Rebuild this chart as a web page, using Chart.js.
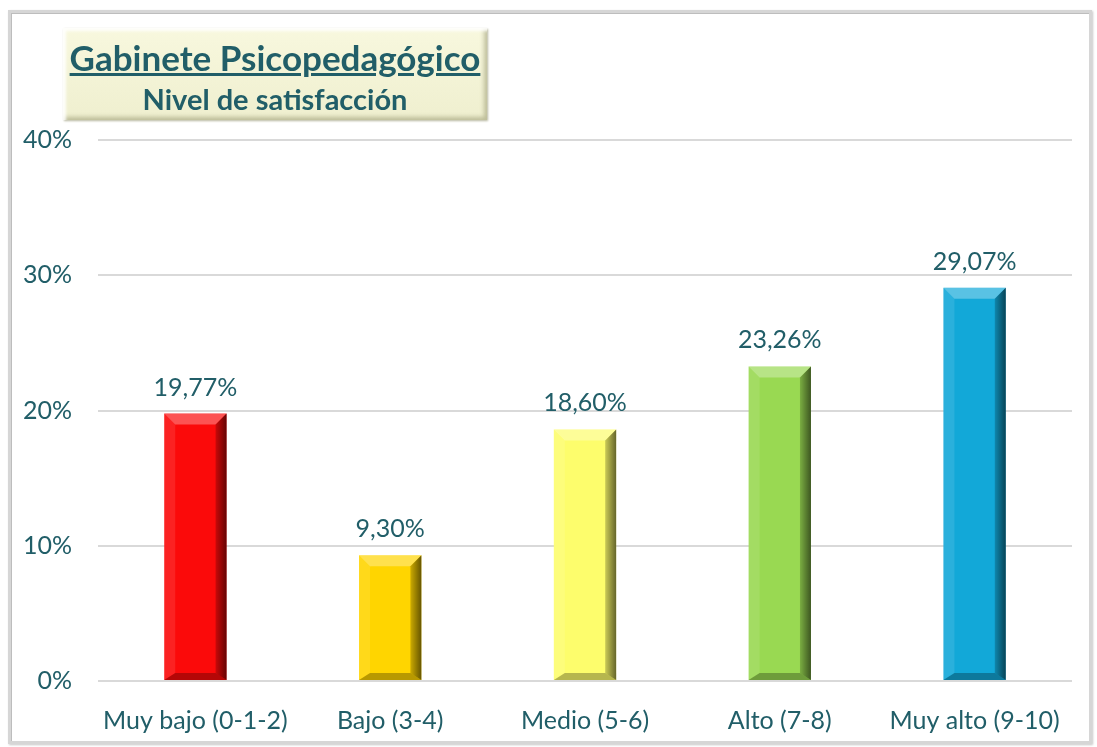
<!DOCTYPE html>
<html>
<head>
<meta charset="utf-8">
<script src="https://cdn.jsdelivr.net/npm/chart.js@4.4.0/dist/chart.umd.min.js"></script>
<style>
    html, body { margin: 0; padding: 0; background: #ffffff; }
    #wrap { position: relative; width: 1097px; height: 747px; }
    #frame {
        position: absolute; left: 8px; top: 10px; width: 1078px; height: 728px;
        border: 3px solid #d6d6d6; box-shadow: inset 1px 1px 0 #bdbdbd, 1px 1px 2px #c8c8c8;
    }
    #titleBox {
        position: absolute; left: 63px; top: 28px; width: 424px; height: 92px;
        background: linear-gradient(#f8f8de, #efefcf);
        box-shadow: inset 3px 3px 3px rgba(255,255,255,0.9), inset -3px -3px 4px rgba(150,150,110,0.55), 1px 1px 2px #b8b8a0;
        text-align: center; color: #215e68; font-family: Lato, sans-serif; font-weight: bold;
    }
    #titleBox .t1 { font-size: 35px; text-decoration: underline; text-decoration-thickness: 3px; margin-top: 9px; line-height: 40px; }
    #titleBox .t2 { font-size: 29px; margin-top: 4px; line-height: 36px; }
    canvas { position: absolute; left: 0; top: 0; }
</style>
</head>
<body>
<div id="wrap">
    <div id="frame"></div>
    <canvas id="chart" width="1097" height="747"></canvas>
    <div id="titleBox">
        <div class="t1">Gabinete Psicopedagógico</div>
        <div class="t2">Nivel de satisfacción</div>
    </div>
</div>
<script>
const categories = ['Muy bajo (0-1-2)', 'Bajo (3-4)', 'Medio (5-6)', 'Alto (7-8)', 'Muy alto (9-10)'];
const values = [19.77, 9.30, 18.60, 23.26, 29.07];
const barColors = ['#fb0a0a', '#ffd500', '#fdfd6c', '#99d952', '#12a8d8'];
const yTicks = [0, 10, 20, 30, 40];

const textColor = '#215e68';

// bevel overlay for each bar, drawn from the bar elements the library computed
const bevelPlugin = {
    id: 'bevel',
    afterDatasetsDraw(chart) {
        const ctx = chart.ctx;
        const meta = chart.getDatasetMeta(0);
        meta.data.forEach((bar, i) => {
            const l = bar.x - bar.width / 2;
            const r = bar.x + bar.width / 2;
            const t = bar.y;
            const b = bar.base;
            const s = 11;
            const sb = 7;
            ctx.save();
            // top
            ctx.fillStyle = 'rgba(255,255,255,0.3)';
            ctx.beginPath();
            ctx.moveTo(l, t); ctx.lineTo(r, t); ctx.lineTo(r - s, t + s); ctx.lineTo(l + s, t + s);
            ctx.fill();
            // left
            ctx.fillStyle = 'rgba(255,255,255,0.1)';
            ctx.beginPath();
            ctx.moveTo(l, t); ctx.lineTo(l + s, t + s); ctx.lineTo(l + s, b - sb); ctx.lineTo(l, b);
            ctx.fill();
            // right
            const gr = ctx.createLinearGradient(r - s, 0, r, 0);
            gr.addColorStop(0, 'rgba(0,0,0,0.2)');
            gr.addColorStop(1, 'rgba(0,0,0,0.6)');
            ctx.fillStyle = gr;
            ctx.beginPath();
            ctx.moveTo(r, t); ctx.lineTo(r, b); ctx.lineTo(r - s, b - sb); ctx.lineTo(r - s, t + s);
            ctx.fill();
            // bottom
            ctx.fillStyle = 'rgba(0,0,0,0.28)';
            ctx.beginPath();
            ctx.moveTo(l, b); ctx.lineTo(r, b); ctx.lineTo(r - s, b - sb); ctx.lineTo(l + s, b - sb);
            ctx.fill();
            ctx.restore();

            // value label
            ctx.save();
            ctx.fillStyle = textColor;
            ctx.font = '25px Lato, sans-serif';
            ctx.textAlign = 'center';
            ctx.textBaseline = 'middle';
            ctx.fillText(values[i].toFixed(2).replace('.', ',') + '%', bar.x, t - 26);
            ctx.restore();
        });
    }
};

new Chart(document.getElementById('chart'), {
    type: 'bar',
    data: {
        labels: categories,
        datasets: [{
            data: values,
            backgroundColor: barColors,
            borderWidth: 0,
            categoryPercentage: 1,
            barPercentage: 0.32
        }]
    },
    options: {
        responsive: false,
        animation: false,
        layout: { padding: { left: 12, right: 25, top: 140, bottom: 10 } },
        plugins: {
            legend: { display: false },
            tooltip: { enabled: false }
        },
        scales: {
            x: {
                grid: { display: false, drawTicks: false },
                border: { display: false },
                ticks: { color: textColor, font: { family: 'Lato', size: 25 }, padding: 25 },
                afterFit(scale) { scale.height = 56; }
            },
            y: {
                min: 0,
                max: 40,
                afterBuildTicks(scale) { scale.ticks = yTicks.map(v => ({ value: v })); },
                grid: { color: '#d9d9d9', lineWidth: 2, drawTicks: false },
                border: { display: false },
                ticks: {
                    color: textColor,
                    font: { family: 'Lato', size: 25 },
                    padding: 26,
                    callback: v => v + '%'
                },
                afterFit(scale) { scale.width = 86; }
            }
        }
    },
    plugins: [bevelPlugin]
});
</script>
</body>
</html>
